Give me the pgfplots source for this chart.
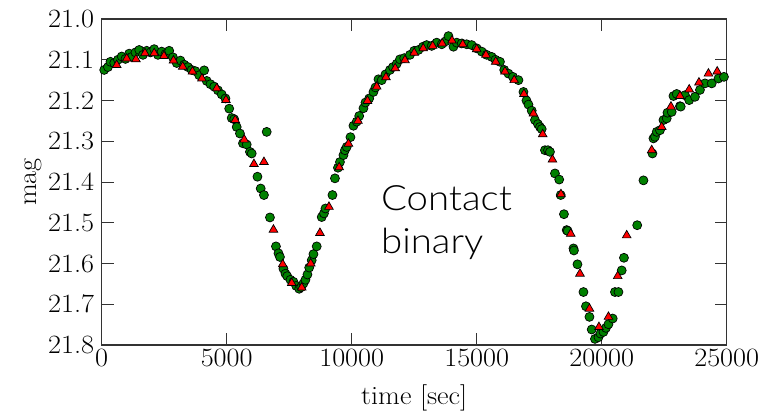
\documentclass[border=0pt]{standalone}
\usepackage{fontspec}
\setmainfont{Latin Modern Roman}[FakeStretch=1.07]
\usepackage{pgfplots}
\pgfplotsset{compat=1.18}
\newfontfamily\gill{Lato Light}[FakeStretch=1.1]
\definecolor{mplgreen}{RGB}{0,128,0}
\definecolor{mplred}{RGB}{255,0,0}
\begin{document}
\begin{tikzpicture}
\useasboundingbox (0,0) rectangle (768bp,413bp);
\begin{axis}[
  at={(101.7bp,68bp)}, anchor=south west,
  scale only axis, width=625bp, height=326bp,
  font=\fontsize{26.5}{31}\selectfont,
  xmin=0, xmax=25000, ymin=21.0, ymax=21.8,
  y dir=reverse,
  xtick={0,5000,10000,15000,20000,25000},
  ytick={21.0,21.1,21.2,21.3,21.4,21.5,21.6,21.7,21.8},
  xticklabel style={yshift=-1bp, /pgf/number format/.cd,1000 sep={},assume math mode=true},
  yticklabel style={xshift=-4bp, /pgf/number format/.cd,fixed,fixed zerofill,precision=1,assume math mode=true},
  scaled x ticks=false, scaled y ticks=false,
  tick align=inside,
  major tick length=12bp,
  every tick/.style={black!80, line width=0.9bp},
  axis line style={black!80, line width=1.3bp},
  xlabel={time [sec]}, ylabel={mag},
  xlabel style={yshift=-10bp},
  ylabel style={yshift=-1bp},
  clip=false,
]
\addplot[only marks, mark=*, mark size=4.5bp,
  mark options={fill=mplgreen, draw=black, line width=0.7bp}] table {
x y
100 21.125
250 21.118
350 21.105
500 21.108
650 21.100
800 21.092
950 21.098
1100 21.085
1200 21.093
1350 21.082
1500 21.076
1650 21.088
1800 21.078
1950 21.082
2100 21.074
2250 21.088
2400 21.080
2550 21.086
2700 21.078
2850 21.094
3000 21.108
3150 21.102
3300 21.112
3450 21.118
3600 21.125
3750 21.128
3900 21.138
4100 21.126
4200 21.152
4350 21.160
4500 21.166
4650 21.175
4800 21.185
4950 21.195
5100 21.220
5200 21.243
5300 21.246
5400 21.265
5530 21.281
5650 21.305
5800 21.308
5930 21.326
6000 21.330
6230 21.387
6360 21.416
6490 21.432
6600 21.277
6730 21.487
6970 21.558
7070 21.575
7130 21.584
7270 21.613
7350 21.625
7420 21.631
7550 21.640
7670 21.645
7780 21.655
7900 21.662
7980 21.658
8070 21.649
8150 21.640
8230 21.627
8300 21.610
8400 21.592
8470 21.577
8600 21.558
8800 21.486
8890 21.477
8950 21.465
9230 21.432
9330 21.391
9450 21.365
9530 21.351
9670 21.334
9730 21.322
9800 21.314
9950 21.290
10070 21.262
10200 21.252
10300 21.238
10470 21.219
10550 21.205
10700 21.195
10870 21.179
10950 21.168
11070 21.148
11200 21.150
11350 21.136
11530 21.125
11650 21.118
11800 21.110
11930 21.099
12100 21.096
12330 21.088
12500 21.078
12670 21.076
12850 21.068
13000 21.064
13200 21.066
13400 21.058
13600 21.062
13750 21.055
13870 21.042
14070 21.068
14200 21.058
14400 21.060
14600 21.062
14800 21.064
15000 21.072
15200 21.080
15400 21.088
15600 21.093
15750 21.100
15930 21.105
16100 21.125
16270 21.134
16450 21.142
16670 21.150
16870 21.179
16990 21.200
17070 21.210
17200 21.225
17330 21.248
17450 21.258
17530 21.265
17600 21.270
17730 21.322
17850 21.322
17930 21.326
18130 21.379
18300 21.394
18360 21.432
18490 21.479
18600 21.518
18640 21.520
18870 21.563
18890 21.568
19030 21.602
19270 21.670
19370 21.705
19510 21.731
19600 21.762
19730 21.785
19870 21.781
19950 21.772
20070 21.768
20170 21.758
20270 21.749
20440 21.735
20530 21.670
20670 21.670
20800 21.617
20890 21.586
21420 21.506
21670 21.396
22030 21.330
22070 21.293
22130 21.289
22200 21.277
22330 21.273
22470 21.248
22600 21.244
22630 21.230
22800 21.228
22870 21.189
23000 21.184
23130 21.214
23160 21.215
23330 21.187
23500 21.199
23730 21.191
23930 21.174
24130 21.158
24400 21.158
24670 21.146
24890 21.142
};
\addplot[only marks, mark=triangle*, mark size=5bp,
  mark options={fill=mplred, draw=black, line width=0.7bp}] table {
x y
600 21.113
1000 21.097
1370 21.099
1730 21.084
2100 21.084
2490 21.091
2870 21.102
3240 21.117
3630 21.129
4010 21.146
4600 21.170
4970 21.199
5340 21.248
5700 21.296
6090 21.356
6490 21.351
6870 21.517
7240 21.602
7600 21.648
8000 21.659
8360 21.600
8730 21.525
9090 21.461
9500 21.364
9870 21.306
10250 21.250
10630 21.201
11000 21.166
11370 21.143
11740 21.121
12130 21.101
12500 21.083
12860 21.072
13240 21.066
13620 21.060
14010 21.053
14440 21.062
15000 21.074
15370 21.088
15760 21.105
16130 21.129
16500 21.150
16890 21.184
17270 21.232
17640 21.283
18030 21.345
18370 21.430
18760 21.527
19130 21.625
19510 21.711
19890 21.756
20270 21.731
20640 21.631
21000 21.531
22000 21.322
22400 21.265
22770 21.215
23130 21.189
23500 21.173
23890 21.156
24270 21.134
24620 21.129
};
\node[anchor=base west, inner sep=0pt, font=\gill\fontsize{35}{42}\selectfont]
  at (axis cs:11170,21.469) {Contact};
\node[anchor=base west, inner sep=0pt, font=\gill\fontsize{35}{42}\selectfont]
  at (axis cs:11170,21.575) {binary};
\end{axis}
\end{tikzpicture}
\end{document}
